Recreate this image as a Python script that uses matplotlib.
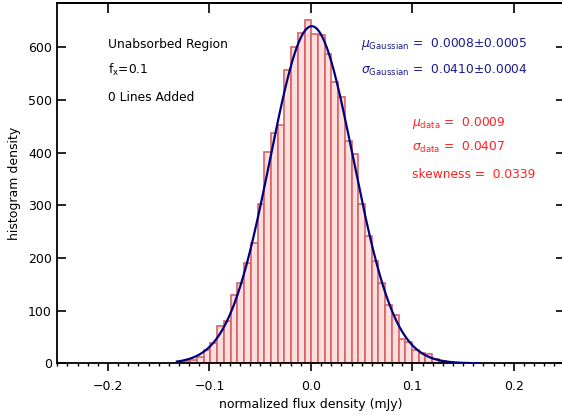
import matplotlib.pyplot as plt
import numpy as np

# histogram counts per bin
counts = [3, 4, 7, 12, 26, 38, 70, 80, 130, 152,
          190, 228, 302, 401, 437, 453, 556, 600, 627, 652,
          625, 623, 588, 534, 506, 422, 398, 303, 241, 194,
          152, 110, 91, 46, 40, 26, 19, 18, 8, 4,
          2, 1, 1, 1, 1]
bin_lo = -0.1321
bin_hi = 0.1658

# gaussian fit parameters
mu_g = 0.0008
sigma_g = 0.0410
amp_g = 640.0

xticks = [-0.2, -0.1, 0.0, 0.1, 0.2]
yticks = [0, 100, 200, 300, 400, 500, 600]

plt.rcParams['font.family'] = ['DejaVu Sans']
plt.rcParams['mathtext.fontset'] = 'dejavusans'

fig = plt.figure(figsize=(5.62, 4.16), dpi=100)
ax = fig.add_axes([0.102, 0.1267, 0.9025, 0.8668])

edges = np.linspace(bin_lo, bin_hi, len(counts) + 1)
width = edges[1] - edges[0]
ax.bar(edges[:-1], counts, width=width, align='edge',
       facecolor='#ffdede', edgecolor='#d86464', linewidth=1.2, zorder=2)

xx = np.linspace(bin_lo, bin_hi, 400)
yy = amp_g * np.exp(-0.5 * ((xx - mu_g) / sigma_g) ** 2)
ax.plot(xx, yy, color='#00007f', linewidth=1.6, zorder=3)

ax.set_xlim(-0.25, 0.25)
ax.set_ylim(0, 684.6)

for s in ax.spines.values():
    s.set_linewidth(1.3)

ax.set_xticks(xticks)
ax.set_xticklabels(['\u22120.2', '\u22120.1', '0.0', '0.1', '0.2'])
ax.set_xticks(np.arange(-0.25, 0.2501, 0.01), minor=True)
ax.tick_params(axis='x', which='major', direction='out', length=5.8, width=1.2,
               labelsize=9, pad=6, top=False)
ax.tick_params(axis='x', which='minor', direction='out', length=2.4, width=1.0, top=False)

ax.set_yticks(yticks)
ax.tick_params(axis='y', which='major', direction='in', length=6.8, width=1.2,
               labelsize=9, pad=4, right=True)

top = ax.secondary_xaxis('top')
top.set_xticks(xticks)
top.tick_params(direction='in', length=7, width=1.2, labeltop=False)
top.spines['top'].set_linewidth(1.3)

ax.set_xlabel('normalized flux density (mJy)', fontsize=9, labelpad=4)
ax.set_ylabel('histogram density', fontsize=9, labelpad=5)

# left annotations
fs = 8.8
ax.text(-0.2, 606, 'Unabsorbed Region', fontsize=fs, va='center', ha='left')
ax.text(-0.2, 556, r'f$_{\rm x}$=0.1', fontsize=fs, va='center', ha='left')
ax.text(-0.2, 505, '0 Lines Added', fontsize=fs, va='center', ha='left')

# fit results
blue = '#1a1a8c'
ax.text(0.0495, 606, r'$\mu_{\rm Gaussian}$ =  0.0008$\pm$0.0005', fontsize=fs,
        color=blue, va='center', ha='left')
ax.text(0.0495, 556, r'$\sigma_{\rm Gaussian}$ =  0.0410$\pm$0.0004', fontsize=fs,
        color=blue, va='center', ha='left')

red = '#ff1f1f'
ax.text(0.1, 457, r'$\mu_{\rm data}$ =  0.0009', fontsize=fs, color=red,
        va='center', ha='left')
ax.text(0.1, 410, r'$\sigma_{\rm data}$ =  0.0407', fontsize=fs, color=red,
        va='center', ha='left')
ax.text(0.1, 359, 'skewness =  0.0339', fontsize=fs, color=red,
        va='center', ha='left')

fig.savefig('out.png', dpi=100)
